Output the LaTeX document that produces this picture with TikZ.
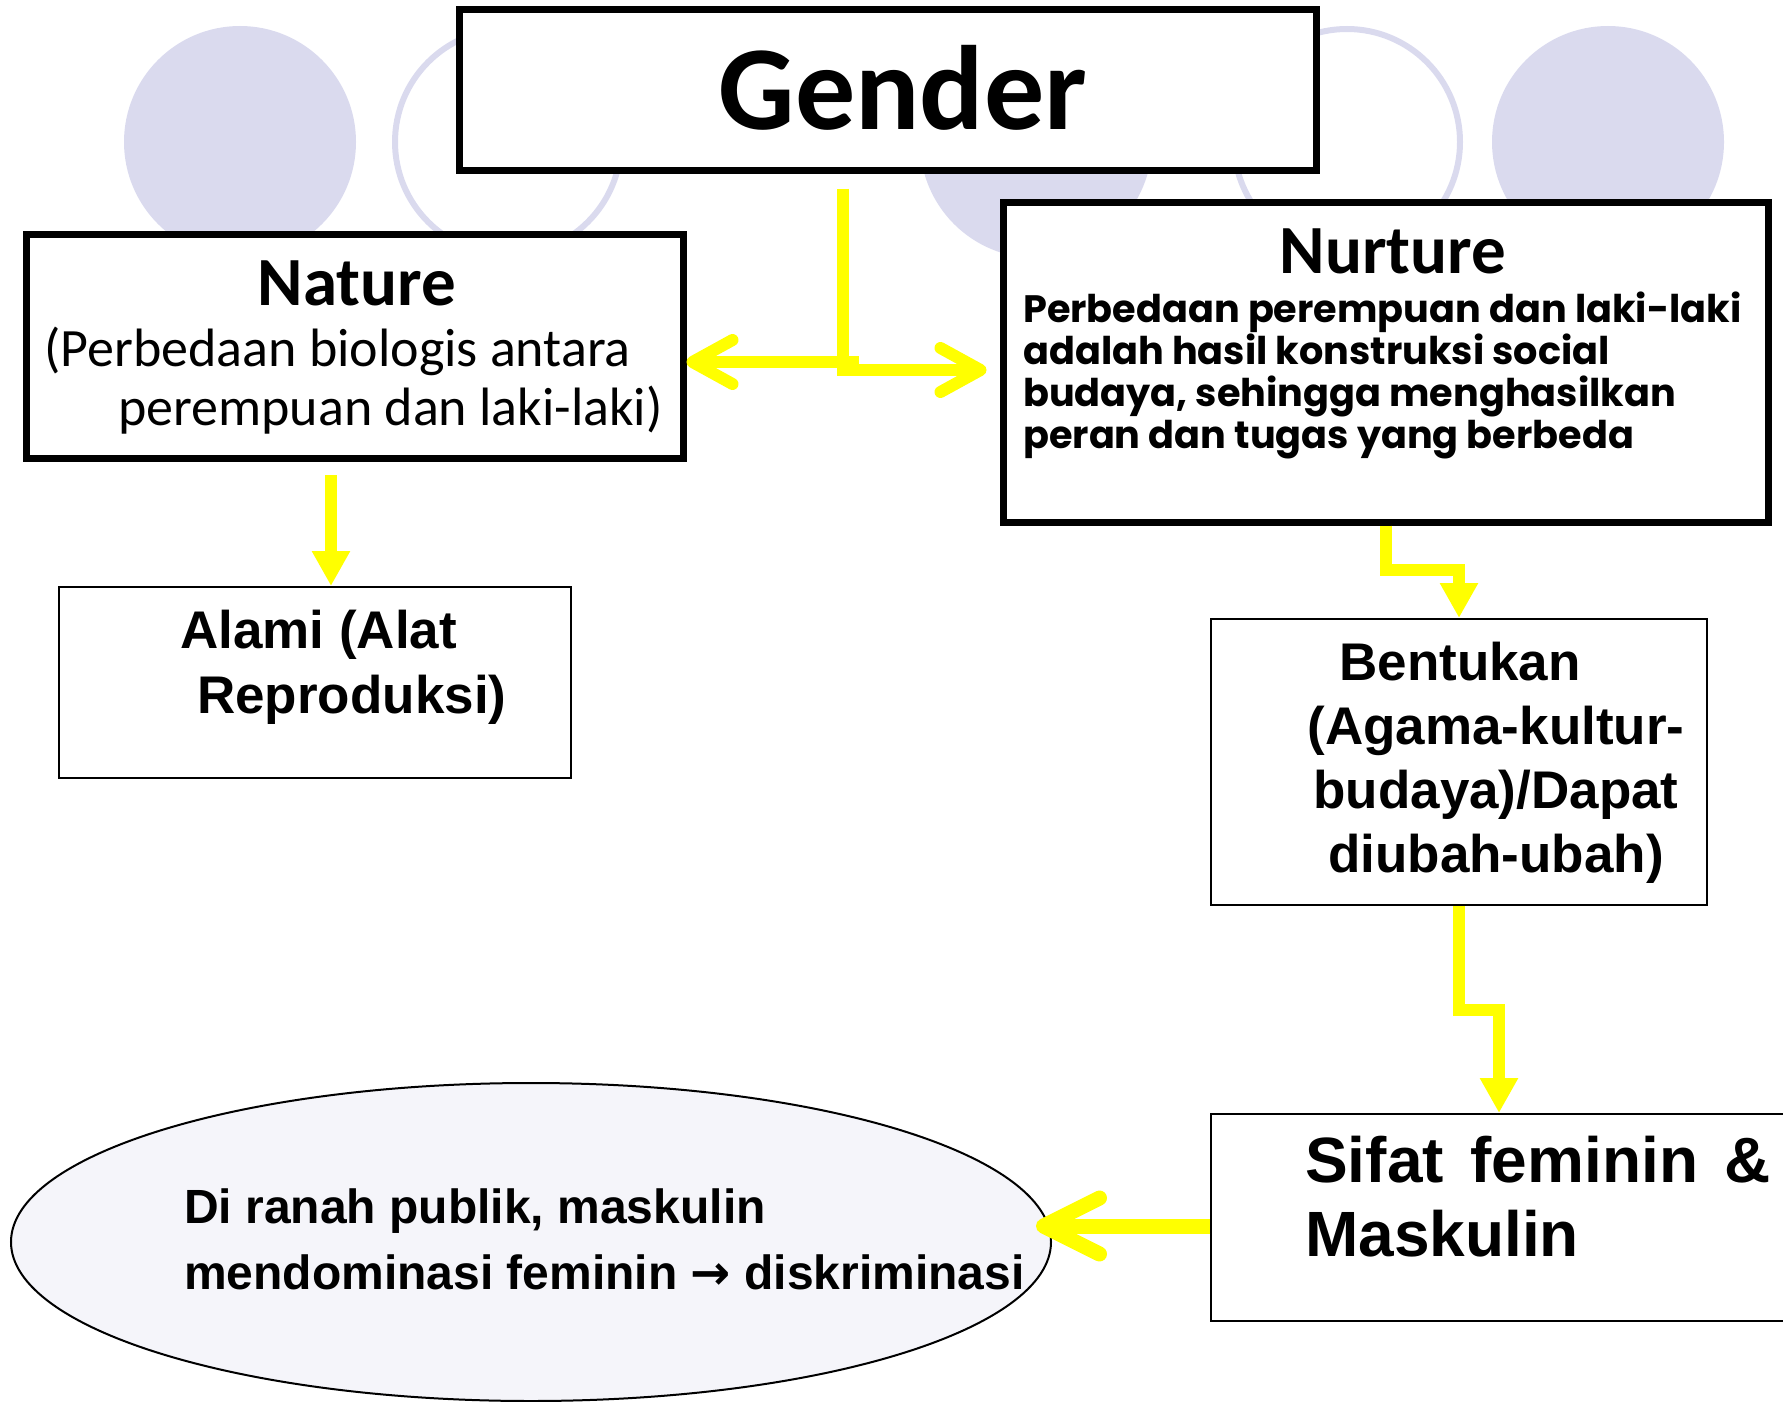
\documentclass[tikz,border=0pt]{standalone}
\usepackage{fontspec}
\usepackage{tikz}
\usetikzlibrary{arrows.meta,shapes.geometric}
\newfontfamily\calfont{Carlito}
\newfontfamily\arfont{Liberation Sans}
\newfontfamily\comfont{Poppins}
\newfontfamily\symfont{DejaVu Sans}
\definecolor{lav}{RGB}{218,218,238}
\definecolor{ellfill}{RGB}{245,245,250}
\definecolor{yel}{RGB}{255,255,0}

\begin{document}
\begin{tikzpicture}[x=1pt,y=-1pt,
  thickbox/.style={draw,line width=7pt,rectangle,inner sep=0pt,fill=white},
  thinbox/.style={draw,line width=2pt,rectangle,inner sep=0pt,fill=white},
  yline/.style={draw=yel,line width=12pt},
  ychev/.style={yline,-{Straight Barb[length=40pt,width=44pt,round]}},
  ytri/.style={yline,-{Triangle[length=35pt,width=36pt]}}]

\useasboundingbox (0,0) rectangle (1783,1402);

% background circles
\fill [lav] (240,142) circle (116pt);
\draw [lav,line width=6pt] (508,142) circle (113pt);
\fill [lav] (1036,142) circle (116pt);
\draw [lav,line width=6pt] (1347,142) circle (113pt);
\fill [lav] (1608,142) circle (116pt);

% boxes
\node (Gender) at (887.5,90)[thickbox,minimum width=857pt,minimum height=160pt] {};
\node (Nature) at (354.5,346)[thickbox,minimum width=657pt,minimum height=224pt] {};
\node (Nurture) at (1385.5,362)[thickbox,minimum width=765pt,minimum height=320pt] {};
\node (Alami) at (315,682.5)[thinbox,minimum width=512pt,minimum height=191pt] {};
\node (Bentukan) at (1459,762)[thinbox,minimum width=496pt,minimum height=286pt] {};
\node (Sifat) at (1530.5,1217.5)[thinbox,minimum width=639pt,minimum height=207pt] {};
\node (Ranah) at (531,1242)[draw,ellipse,line width=2pt,fill=ellfill,inner sep=0pt,minimum width=1040pt,minimum height=318pt] {};

% texts (multi-line nodes sit on their last baseline)
\node (GenderT) at (903,130)[anchor=base,font=\calfont\bfseries\fontsize{120}{120}\selectfont] {Gender};
\node (NatureT) at (357,305)[anchor=base,font=\calfont\bfseries\fontsize{69}{69}\selectfont] {Nature};
\node (NatureB) at (44,425)[anchor=base west,align=left,inner sep=0pt,font=\calfont\fontsize{54}{59}\selectfont] {(Perbedaan biologis antara\\\hspace*{74pt}perempuan dan laki-laki)};
\node (NurtureT) at (1393,273)[anchor=base,font=\calfont\bfseries\fontsize{69}{69}\selectfont] {Nurture};
\node (NurtureB) at (1023,448)[anchor=base west,align=left,inner sep=0pt,font=\comfont\bfseries\fontsize{38.2}{41.7}\selectfont] {Perbedaan perempuan dan laki-laki\\adalah hasil konstruksi social\\budaya, sehingga menghasilkan\\peran dan tugas yang berbeda};
\node (AlamiT) at (180,713)[anchor=base west,align=left,inner sep=0pt,font=\arfont\bfseries\fontsize{53}{65}\selectfont] {Alami (Alat\\\hspace*{17pt}Reproduksi)};
\node (BentukanT) at (1496,872)[anchor=base,align=center,inner sep=0pt,font=\arfont\bfseries\fontsize{53}{64}\selectfont] {Bentukan\hspace*{72pt}\\(Agama-kultur-\\budaya)/Dapat\\diubah-ubah)};
\node (SifatT) at (1305,1256)[anchor=base west,align=left,inner sep=0pt,font=\arfont\bfseries\fontsize{64}{74}\selectfont] {\makebox[466pt][s]{Sifat feminin \&}\\Maskulin};
\node (RanahT) at (184,1289)[anchor=base west,align=left,inner sep=0pt,font=\arfont\bfseries\fontsize{48}{66}\selectfont] {Di ranah publik, maskulin\\mendominasi feminin {\symfont\bfseries →} diskriminasi};

% yellow connectors
\coordinate (fork) at (843,370);
\coordinate (forkL) at (859,362);
\coordinate (natdown) at (331,475);
\coordinate (bendN) at (1459,570);
\coordinate (bendB) at (1499,1010);
\coordinate (sifout) at (1211,1226);
\draw [yline,shorten <=15pt] (Gender.south -| fork) -- (fork);
\draw [ychev] (forkL) -- (Nature.east |- forkL);
\draw [ychev,shorten >=13pt] ([xshift=-6pt]fork) -- (Nurture.west |- fork);
\draw [ytri] (natdown) -- (Alami.north -| natdown);
\draw [ytri] (Nurture.south) |- (bendN) -- (Bentukan.north);
\draw [ytri] (Bentukan.south) |- (bendB) -- (bendB |- Sifat.north);
\draw [ychev,line width=15pt,-{Straight Barb[length=56pt,width=56pt,round]},shorten >=-16pt] (Sifat.west |- sifout) -- (sifout -| Ranah.east);
\end{tikzpicture}
\end{document}
